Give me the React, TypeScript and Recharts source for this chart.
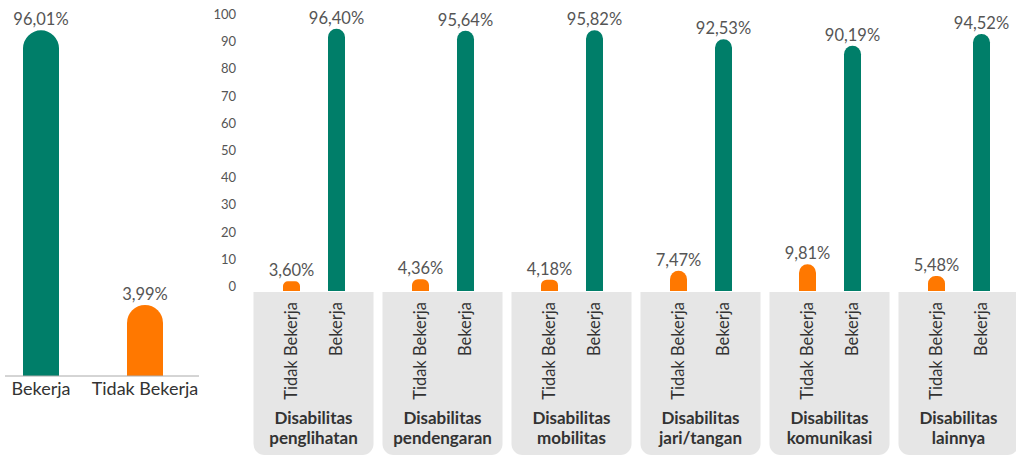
import { BarChart, Bar, XAxis, YAxis, Cell, LabelList } from "recharts"

const summaryLabels = ["Bekerja", "Tidak Bekerja"]
const summaryValues = [96.01, 3.99]

const groupNames = [
  ["Disabilitas", "penglihatan"],
  ["Disabilitas", "pendengaran"],
  ["Disabilitas", "mobilitas"],
  ["Disabilitas", "jari/tangan"],
  ["Disabilitas", "komunikasi"],
  ["Disabilitas", "lainnya"],
]
const tidakBekerja = [3.6, 4.36, 4.18, 7.47, 9.81, 5.48]
const bekerja = [96.4, 95.64, 95.82, 92.53, 90.19, 94.52]
const yTicks = [0, 10, 20, 30, 40, 50, 60, 70, 80, 90, 100]

const GREEN = "#007E69"
const ORANGE = "#FF7800"
const FONT = "Lato, 'Open Sans', sans-serif"
const BAR = 17
const GAP = 28

const summaryData = summaryLabels.map((name, i) => ({ name, value: summaryValues[i] }))
const groupData = groupNames.map((g, i) => ({
  name: g.join(" "),
  tidak: tidakBekerja[i],
  bekerja: bekerja[i],
}))

const pct = (v: number) => v.toFixed(2).replace(".", ",") + "%"

function YTick({ x, y, payload }: any) {
  return (
    <text x={x} y={y - 5} textAnchor="end" dominantBaseline="central" fontSize={13} fill="#555" fontFamily={FONT}>
      {payload.value}
    </text>
  )
}

function GroupTick({ x, y, payload }: any) {
  const lines = groupNames.find((g) => g.join(" ") === payload.value) || []
  const x0 = x - 60
  const x1 = x + 60
  const top = y + 1
  const bot = y + 164
  const r = 11
  const off = (BAR + GAP) / 2
  const ty = y + 11
  return (
    <g>
      <path
        d={`M${x0},${top} H${x1} V${bot - r} A${r},${r} 0 0 1 ${x1 - r},${bot} H${x0 + r} A${r},${r} 0 0 1 ${x0},${bot - r} Z`}
        fill="#E6E6E6"
      />
      {["Tidak Bekerja", "Bekerja"].map((t, i) => {
        const cx = x + (i === 0 ? -off : off)
        return (
          <text
            key={t}
            x={cx}
            y={ty}
            transform={`rotate(-90 ${cx} ${ty})`}
            textAnchor="end"
            dominantBaseline="central"
            fontSize={16.5}
            fill="#333"
            fontFamily={FONT}
          >
            {t}
          </text>
        )
      })}
      {lines.map((l, i) => (
        <text
          key={i}
          x={x}
          y={y + 126 + i * 20}
          textAnchor="middle"
          dominantBaseline="central"
          fontSize={17}
          fontWeight="bold"
          fill="#333"
          fontFamily={FONT}
        >
          {l}
        </text>
      ))}
    </g>
  )
}

export default function App() {
  return (
    <div style={{ position: "absolute", left: 0, top: 0, width: 1016, height: 456, overflow: "hidden", background: "#fff", fontFamily: FONT }}>
      <div style={{ position: "absolute", left: 0, top: 0 }}>
        <BarChart width={210} height={456} data={summaryData} margin={{ top: 16, right: 11, bottom: 0, left: 5 }}>
          <XAxis
            dataKey="name"
            height={80}
            padding={{ left: -16, right: 2 }}
            axisLine={{ stroke: "#aaa" }}
            tickLine={false}
            tickSize={0}
            tickMargin={6}
            tick={{ fontSize: 18, fill: "#333", fontFamily: FONT }}
            interval={0}
          />
          <YAxis hide domain={[0, 100]} />
          <Bar dataKey="value" barSize={36} radius={[18, 18, 0, 0]} minPointSize={71} isAnimationActive={false}>
            {summaryData.map((d, i) => (
              <Cell key={d.name} fill={i === 0 ? GREEN : ORANGE} />
            ))}
            <LabelList dataKey="value" position="top" formatter={(v: any) => pct(Number(v))} fill="#555" fontSize={16.5} fontFamily={FONT} />
          </Bar>
        </BarChart>
      </div>

      <div style={{ position: "absolute", left: 200, top: 0 }}>
        <BarChart width={823} height={456} data={groupData} margin={{ top: 19, right: 0, bottom: 0, left: 0 }} barGap={GAP}>
          <YAxis
            width={49}
            domain={[0, 100]}
            ticks={yTicks}
            axisLine={false}
            tickLine={false}
            tickSize={0}
            tickMargin={13}
            tick={(p: any) => <YTick {...p} />}
            interval={0}
          />
          <XAxis
            dataKey="name"
            height={165}
            axisLine={false}
            tickLine={false}
            tickSize={0}
            tickMargin={0}
            interval={0}
            tick={(p: any) => <GroupTick {...p} />}
          />
          <Bar dataKey="tidak" fill={ORANGE} barSize={BAR} radius={[8.5, 8.5, 0, 0]} isAnimationActive={false}>
            <LabelList dataKey="tidak" position="top" formatter={(v: any) => pct(Number(v))} fill="#555" fontSize={16.5} fontFamily={FONT} />
          </Bar>
          <Bar dataKey="bekerja" fill={GREEN} barSize={BAR} radius={[8.5, 8.5, 0, 0]} isAnimationActive={false}>
            <LabelList dataKey="bekerja" position="top" formatter={(v: any) => pct(Number(v))} fill="#555" fontSize={16.5} fontFamily={FONT} />
          </Bar>
        </BarChart>
      </div>
    </div>
  )
}
